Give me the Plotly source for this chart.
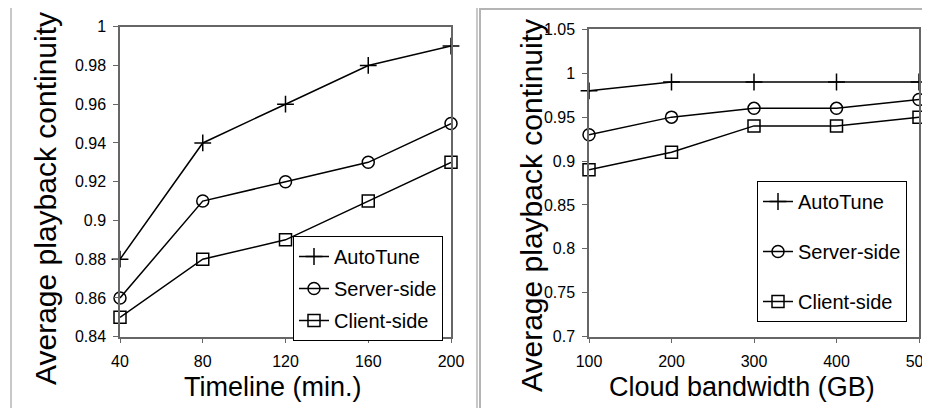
import plotly.graph_objects as go

# ---- data ----
timeline = [40, 80, 120, 160, 200]
left_autotune = [0.88, 0.94, 0.96, 0.98, 0.99]
left_server = [0.86, 0.91, 0.92, 0.93, 0.95]
left_client = [0.85, 0.88, 0.89, 0.91, 0.93]

bandwidth = [100, 200, 300, 400, 500]
right_autotune = [0.98, 0.99, 0.99, 0.99, 0.99]
right_server = [0.93, 0.95, 0.96, 0.96, 0.97]
right_client = [0.89, 0.91, 0.94, 0.94, 0.95]

series_names = ["AutoTune", "Server-side", "Client-side"]

left_yticks = [0.84, 0.86, 0.88, 0.9, 0.92, 0.94, 0.96, 0.98, 1.0]
left_yticktext = ["0.84", "0.86", "0.88", "0.9", "0.92", "0.94", "0.96", "0.98", "1"]
right_yticks = [0.7, 0.75, 0.8, 0.85, 0.9, 0.95, 1.0, 1.05]
right_yticktext = ["0.7", "0.75", "0.8", "0.85", "0.9", "0.95", "1", "1.05"]

W, H = 930, 408
OFF = 8  # page body margin offset
FONT = "Liberation Sans, Arial, sans-serif"

def px(x):
    return (x - OFF) / W

def py(y):
    return 1 - (y - OFF) / H

symbols = ["cross-thin", "circle-open", "square-open"]

fig = go.Figure()

def add_series(xs, ys_list, xaxis, yaxis, legend):
    for name, ys, sym in zip(series_names, ys_list, symbols):
        fig.add_trace(go.Scatter(
            x=xs, y=ys, name=name, mode="lines+markers",
            xaxis=xaxis, yaxis=yaxis, legend=legend,
            legendgroup=legend + name,
            line=dict(color="black", width=1.5),
            marker=dict(symbol=sym, size=12, color="black",
                        line=dict(color="black", width=1.5)),
            cliponaxis=False,
        ))

add_series(timeline, [left_autotune, left_server, left_client], "x", "y", "legend")
add_series(bandwidth, [right_autotune, right_server, right_client], "x2", "y2", "legend2")

axis_common = dict(
    showgrid=False, zeroline=False, showline=True, linecolor="#666666",
    linewidth=1.5, mirror=True, ticks="outside", ticklen=5, tickcolor="#666666",
    automargin=False,
    tickfont=dict(family=FONT, size=16, color="black"),
)

fig.update_layout(
    width=W, height=H,
    margin=dict(l=0, r=0, t=0, b=0, autoexpand=False),
    paper_bgcolor="white", plot_bgcolor="white",
    font=dict(family=FONT, color="black"),
    xaxis=dict(domain=[px(120), px(451)], range=[40, 200], tickvals=timeline,
               anchor="y", ticklabelstandoff=4, **axis_common),
    yaxis=dict(domain=[py(336.7), py(26.7)], range=[0.84, 1.0],
               tickvals=left_yticks, ticktext=left_yticktext, anchor="x",
               ticklabelstandoff=4, **axis_common),
    xaxis2=dict(domain=[px(589), px(919)], range=[100, 500], tickvals=bandwidth,
                anchor="y2", ticklabelstandoff=4, **axis_common),
    yaxis2=dict(domain=[py(336.7), py(29.3)], range=[0.7, 1.05],
                tickvals=right_yticks, ticktext=right_yticktext, anchor="x2",
                ticklabelstandoff=4, **axis_common),
    legend=dict(x=px(293), y=py(236), xanchor="left", yanchor="top",
                bordercolor="black", borderwidth=1, bgcolor="white",
                font=dict(family=FONT, size=20, color="black"),
                traceorder="grouped", tracegroupgap=3),
    legend2=dict(x=px(757), y=py(181), xanchor="left", yanchor="top",
                 bordercolor="black", borderwidth=1, bgcolor="white",
                 font=dict(family=FONT, size=20, color="black"),
                 traceorder="grouped", tracegroupgap=21),
    showlegend=True,
)

# axis titles as annotations
ann = dict(xref="paper", yref="paper", showarrow=False,
           xanchor="center", yanchor="middle")
fig.add_annotation(x=px(45), y=py(199), text="Average playback continuity",
                   textangle=-90, font=dict(family=FONT, size=30, color="black"), **ann)
fig.add_annotation(x=px(531), y=py(206), text="Average playback continuity",
                   textangle=-90, font=dict(family=FONT, size=30, color="black"), **ann)
fig.add_annotation(x=px(273), y=py(387), text="Timeline (min.)",
                   font=dict(family=FONT, size=27, color="black"), **ann)
fig.add_annotation(x=px(742), y=py(387), text="Cloud bandwidth (GB)",
                   font=dict(family=FONT, size=27, color="black"), **ann)

# outer panel frames
fig.add_shape(type="rect", xref="paper", yref="paper",
              x0=px(11), x1=px(477), y0=py(430), y1=py(6.5),
              line=dict(color="#c8c8c8", width=2), layer="below")
fig.add_shape(type="rect", xref="paper", yref="paper",
              x0=px(480), x1=px(950), y0=py(430), y1=py(9),
              line=dict(color="#b4b4b4", width=2), layer="below")

fig.write_html("out.html")
